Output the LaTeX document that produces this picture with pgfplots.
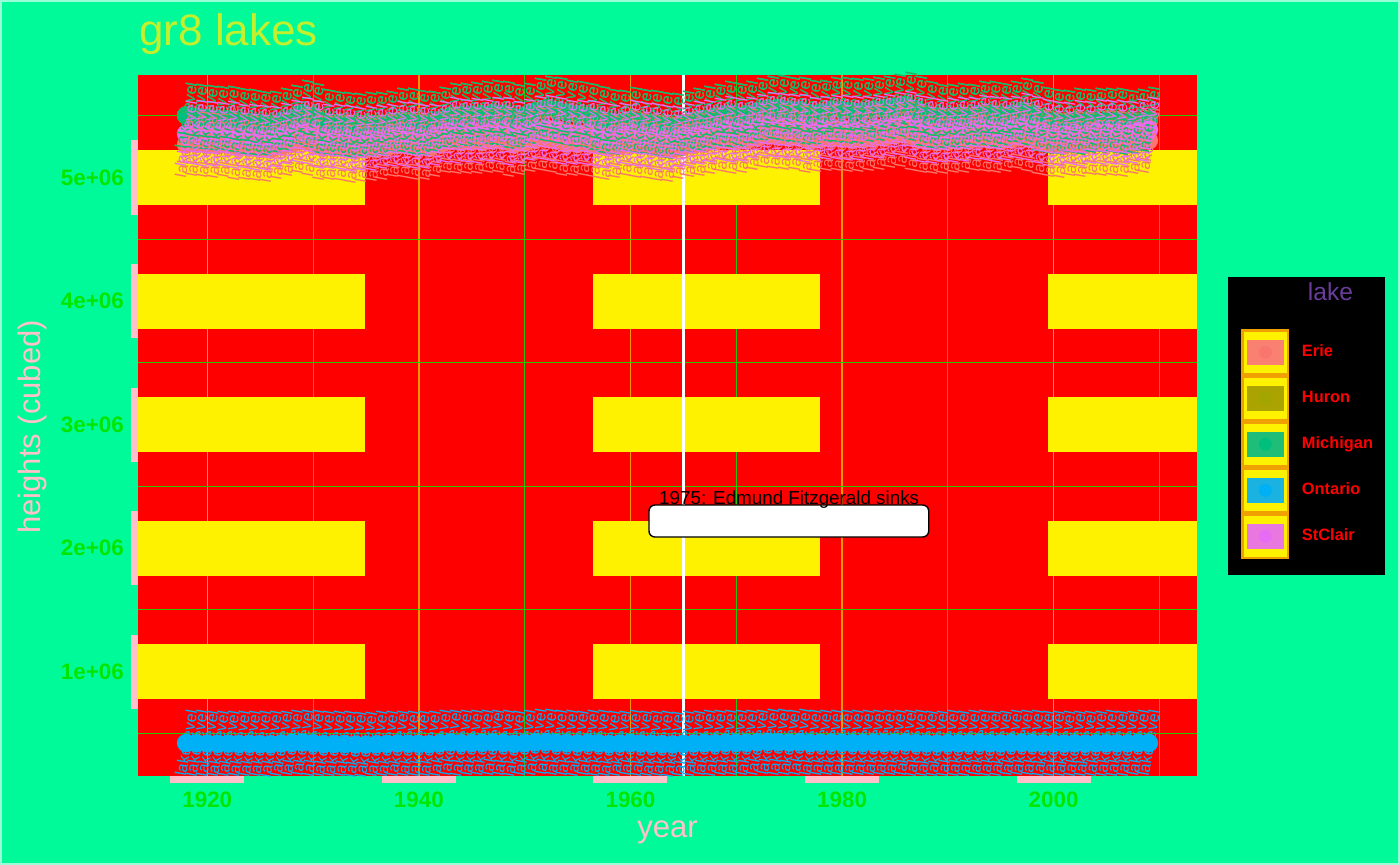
\documentclass[border=0pt]{standalone}
\usepackage{fontspec}
\setmainfont{Liberation Sans}
\usepackage{pgfplots}
\usepackage{pgfplotstable}
\pgfplotsset{compat=1.18}
\definecolor{bgG}{HTML}{00FA9A}
\definecolor{titleC}{RGB}{195,240,45}
\definecolor{tickG}{RGB}{0,230,0}
\definecolor{pinkC}{HTML}{FFC0CB}
\definecolor{erieC}{HTML}{F8766D}
\definecolor{huronC}{HTML}{A3A500}
\definecolor{michC}{HTML}{00BF7D}
\definecolor{ontC}{HTML}{00B0F6}
\definecolor{stcC}{HTML}{E76BF3}
\definecolor{erieR}{HTML}{FA8072}
\definecolor{huronR}{HTML}{AAA300}
\definecolor{michR}{HTML}{1FBE78}
\definecolor{ontR}{HTML}{1AB2E0}
\definecolor{stcR}{HTML}{E878E0}
\definecolor{lakeT}{HTML}{6A3D9A}
\definecolor{gridG}{RGB}{40,200,0}
\definecolor{majX}{RGB}{255,150,0}
\definecolor{keyO}{RGB}{240,160,0}

% annual mean lake levels (m); plotted cubed
\pgfplotstableread{
year E M O S
1918 174.00 176.55 74.95 174.95
1919 174.05 176.45 74.85 175.00
1920 173.95 176.35 74.70 174.90
1921 173.90 176.25 74.55 174.85
1922 173.95 176.25 74.65 174.90
1923 173.75 176.05 74.50 174.70
1924 173.70 175.95 74.55 174.65
1925 173.60 175.85 74.40 174.55
1926 173.55 175.80 74.35 174.50
1927 173.80 176.05 74.75 174.75
1928 174.05 176.30 75.00 175.00
1929 174.30 176.75 75.20 175.25
1930 174.10 176.50 74.85 175.05
1931 173.70 176.00 74.40 174.65
1932 173.70 175.85 74.50 174.65
1933 173.65 175.75 74.50 174.60
1934 173.45 175.65 74.25 174.40
1935 173.55 175.70 74.20 174.50
1936 173.60 175.75 74.40 174.55
1937 173.75 175.80 74.50 174.70
1938 173.95 176.05 74.75 174.90
1939 173.90 176.05 74.60 174.85
1940 173.75 175.90 74.55 174.70
1941 173.70 175.85 74.40 174.65
1942 174.00 176.15 74.85 174.95
1943 174.30 176.50 75.25 175.25
1944 174.20 176.55 74.85 175.15
1945 174.25 176.60 74.95 175.20
1946 174.20 176.65 75.00 175.15
1947 174.35 176.75 75.25 175.30
1948 174.30 176.70 74.95 175.25
1949 174.00 176.40 74.55 174.95
1950 174.15 176.50 74.90 175.10
1951 174.40 176.90 75.30 175.35
1952 174.50 177.15 75.40 175.45
1953 174.35 177.00 75.00 175.30
1954 174.10 176.80 74.90 175.05
1955 174.05 176.65 74.75 175.00
1956 174.10 176.50 75.05 175.05
1957 173.90 176.25 74.85 174.85
1958 173.70 176.00 74.45 174.65
1959 173.85 175.90 74.70 174.80
1960 174.10 176.15 75.00 175.05
1961 173.90 176.00 74.70 174.85
1962 173.80 175.90 74.55 174.75
1963 173.60 175.70 74.40 174.55
1964 173.55 175.60 74.30 174.50
1965 173.80 175.85 74.55 174.75
1966 173.95 176.10 74.70 174.90
1967 174.05 176.25 74.95 175.00
1968 174.25 176.45 74.85 175.20
1969 174.40 176.65 75.05 175.35
1970 174.25 176.55 75.00 175.20
1971 174.35 176.65 75.05 175.30
1972 174.60 176.90 75.25 175.55
1973 174.80 177.15 75.50 175.75
1974 174.70 177.20 75.30 175.65
1975 174.60 177.05 75.15 175.55
1976 174.60 177.00 75.35 175.55
1977 174.30 176.75 74.90 175.25
1978 174.45 176.80 75.05 175.40
1979 174.55 177.05 75.10 175.50
1980 174.50 177.00 75.00 175.45
1981 174.40 176.90 74.90 175.35
1982 174.45 176.90 75.00 175.40
1983 174.55 177.05 75.05 175.50
1984 174.60 177.15 75.00 175.55
1985 174.80 177.30 75.10 175.75
1986 174.90 177.45 75.20 175.85
1987 174.55 177.10 74.85 175.50
1988 174.30 176.65 74.75 175.25
1989 174.20 176.45 74.70 175.15
1990 174.25 176.40 74.85 175.20
1991 174.30 176.50 74.80 175.25
1992 174.35 176.45 74.85 175.30
1993 174.55 176.70 75.05 175.50
1994 174.40 176.70 74.80 175.35
1995 174.30 176.55 74.75 175.25
1996 174.45 176.70 74.95 175.40
1997 174.65 176.95 75.00 175.60
1998 174.45 176.70 74.90 175.40
1999 174.15 176.20 74.75 175.10
2000 173.95 176.00 74.80 174.90
2001 173.90 175.90 74.65 174.85
2002 174.05 176.05 74.80 175.00
2003 173.95 175.95 74.65 174.90
2004 174.15 176.05 74.80 175.10
2005 174.10 176.10 74.85 175.05
2006 174.05 176.10 74.80 175.00
2007 174.00 175.90 74.80 174.95
2008 174.20 176.00 74.95 175.15
2009 174.35 176.15 74.95 175.30
}\lakes

\pgfplotsset{
  lkey/.style 2 args={legend image code/.code={
    \draw[fill=yellow, draw=keyO, line width=1.2bp] (0.6bp,-10.9bp) rectangle (23.4bp,10.9bp);
    \fill[#1] (2.85bp,-5.8bp) rectangle (21.15bp,5.8bp);
    \fill[#2] (12bp,0bp) circle (3bp);}},
  lbl/.style={draw=none, mark=none, forget plot, nodes near coords={lake level},
    every node near coord/.append style={rotate=80, anchor=center, inner sep=0pt,
      text=#1, font=\fontsize{8bp}{9bp}\selectfont}},
}

\begin{document}
\begin{tikzpicture}
\fill[bgG] (0,0) rectangle (700bp,432.5bp);
\draw[white!60!bgG, line width=0.8bp] (0.4bp,0.4bp) rectangle (699.6bp,432.1bp);
\node[anchor=base west, inner sep=0pt, text=titleC, font=\fontsize{22bp}{26bp}\selectfont] at (69.5bp,409.6bp) {gr8 lakes};
\fill[black] (614bp,145bp) rectangle (692.5bp,294bp);
\node[anchor=base, inner sep=0pt, text=lakeT, font=\fontsize{12.3bp}{14bp}\selectfont] at (665.25bp,282.2bp) {lake};
\begin{axis}[
  at={(69bp,44.5bp)}, anchor=south west,
  scale only axis, width=529.5bp, height=350.5bp,
  xmin=1913.45, xmax=2013.55, ymin=0.154e6, ymax=5.83e6,
  axis background/.style={fill=red},
  axis line style={draw=none},
  xtick={1920,1940,1960,1980,2000},
  xticklabels={1920,1940,1960,1980,2000},
  ytick={1e6,2e6,3e6,4e6,5e6},
  yticklabels={1e+06,2e+06,3e+06,4e+06,5e+06},
  minor xtick={1930,1950,1970,1990,2010},
  minor ytick={0.5e6,1.5e6,2.5e6,3.5e6,4.5e6,5.5e6},
  scaled y ticks=false,
  grid=both,
  minor grid style={gridG, line width=0.5bp},
  major x grid style={majX, line width=0.7bp},
  major y grid style={yellow, line width=27.5bp, dash pattern=on 113.5bp off 114bp},
  tick align=outside,
  xtick pos=left, ytick pos=left,
  major tick length=3.6bp, minor tick length=0pt,
  major tick style={pinkC, line width=37bp},
  tick label style={font=\fontsize{11.2bp}{13bp}\selectfont\bfseries, text=tickG},
  xticklabel style={yshift=-1bp},
  /pgf/number format/assume math mode=true,
  xlabel={year}, ylabel={heights (cubed)},
  xlabel style={at={(axis description cs:0.5,-0.0799)}, anchor=center, text=pinkC, font=\fontsize{15.5bp}{18bp}\selectfont},
  ylabel style={at={(axis description cs:-0.0997,0.498)}, anchor=center, text=pinkC, font=\fontsize{15.5bp}{18bp}\selectfont},
  legend style={at={(axis description cs:1.0415,0.6377)}, anchor=north west, fill=none, draw=none,
    inner sep=0pt, row sep=0pt, nodes={inner sep=0pt}, text=red,
    font=\fontsize{8.2bp}{9bp}\selectfont\bfseries,
    /tikz/every odd column/.append style={column sep=6.3bp}},
  legend cell align=left,
]
\addplot[only marks, mark=*, mark size=4.4bp, color=erieC, mark options={draw=none}, lkey={erieR}{erieC}] table[x=year, y expr=\thisrow{E}^3]{\lakes};
\addlegendentry{Erie}
\addplot[only marks, mark=*, mark size=4.4bp, color=huronC, mark options={draw=none}, lkey={huronR}{huronC}] table[x=year, y expr=\thisrow{M}^3]{\lakes};
\addlegendentry{Huron}
\addplot[only marks, mark=*, mark size=4.4bp, color=michC, mark options={draw=none}, lkey={michR}{michC}] table[x=year, y expr=\thisrow{M}^3]{\lakes};
\addlegendentry{Michigan}
\addplot[only marks, mark=*, mark size=4.4bp, color=ontC, mark options={draw=none}, lkey={ontR}{ontC}] table[x=year, y expr=\thisrow{O}^3]{\lakes};
\addlegendentry{Ontario}
\addplot[only marks, mark=*, mark size=4.4bp, color=stcC, mark options={draw=none}, lkey={stcR}{stcC}] table[x=year, y expr=\thisrow{S}^3]{\lakes};
\addlegendentry{StClair}
\addplot[lbl=erieC] table[x=year, y expr=\thisrow{E}^3]{\lakes};
\addplot[lbl=huronC] table[x=year, y expr=\thisrow{M}^3]{\lakes};
\addplot[lbl=michC] table[x=year, y expr=\thisrow{M}^3]{\lakes};
\addplot[lbl=ontC] table[x=year, y expr=\thisrow{O}^3]{\lakes};
\addplot[lbl=stcC] table[x=year, y expr=\thisrow{S}^3]{\lakes};
\addplot[white, line width=1.3bp, forget plot] coordinates {(1965,0.154e6) (1965,5.83e6)};
\draw[black, fill=white, rounded corners=3bp, line width=0.7bp] (axis cs:1961.75,2.089e6) rectangle (axis cs:1988.19,2.348e6);
\node[anchor=base, inner sep=0pt, text=black, font=\fontsize{9.4bp}{11bp}\selectfont] at (axis cs:1975,2.356e6) {1975: Edmund Fitzgerald sinks};
\end{axis}
\end{tikzpicture}
\end{document}
